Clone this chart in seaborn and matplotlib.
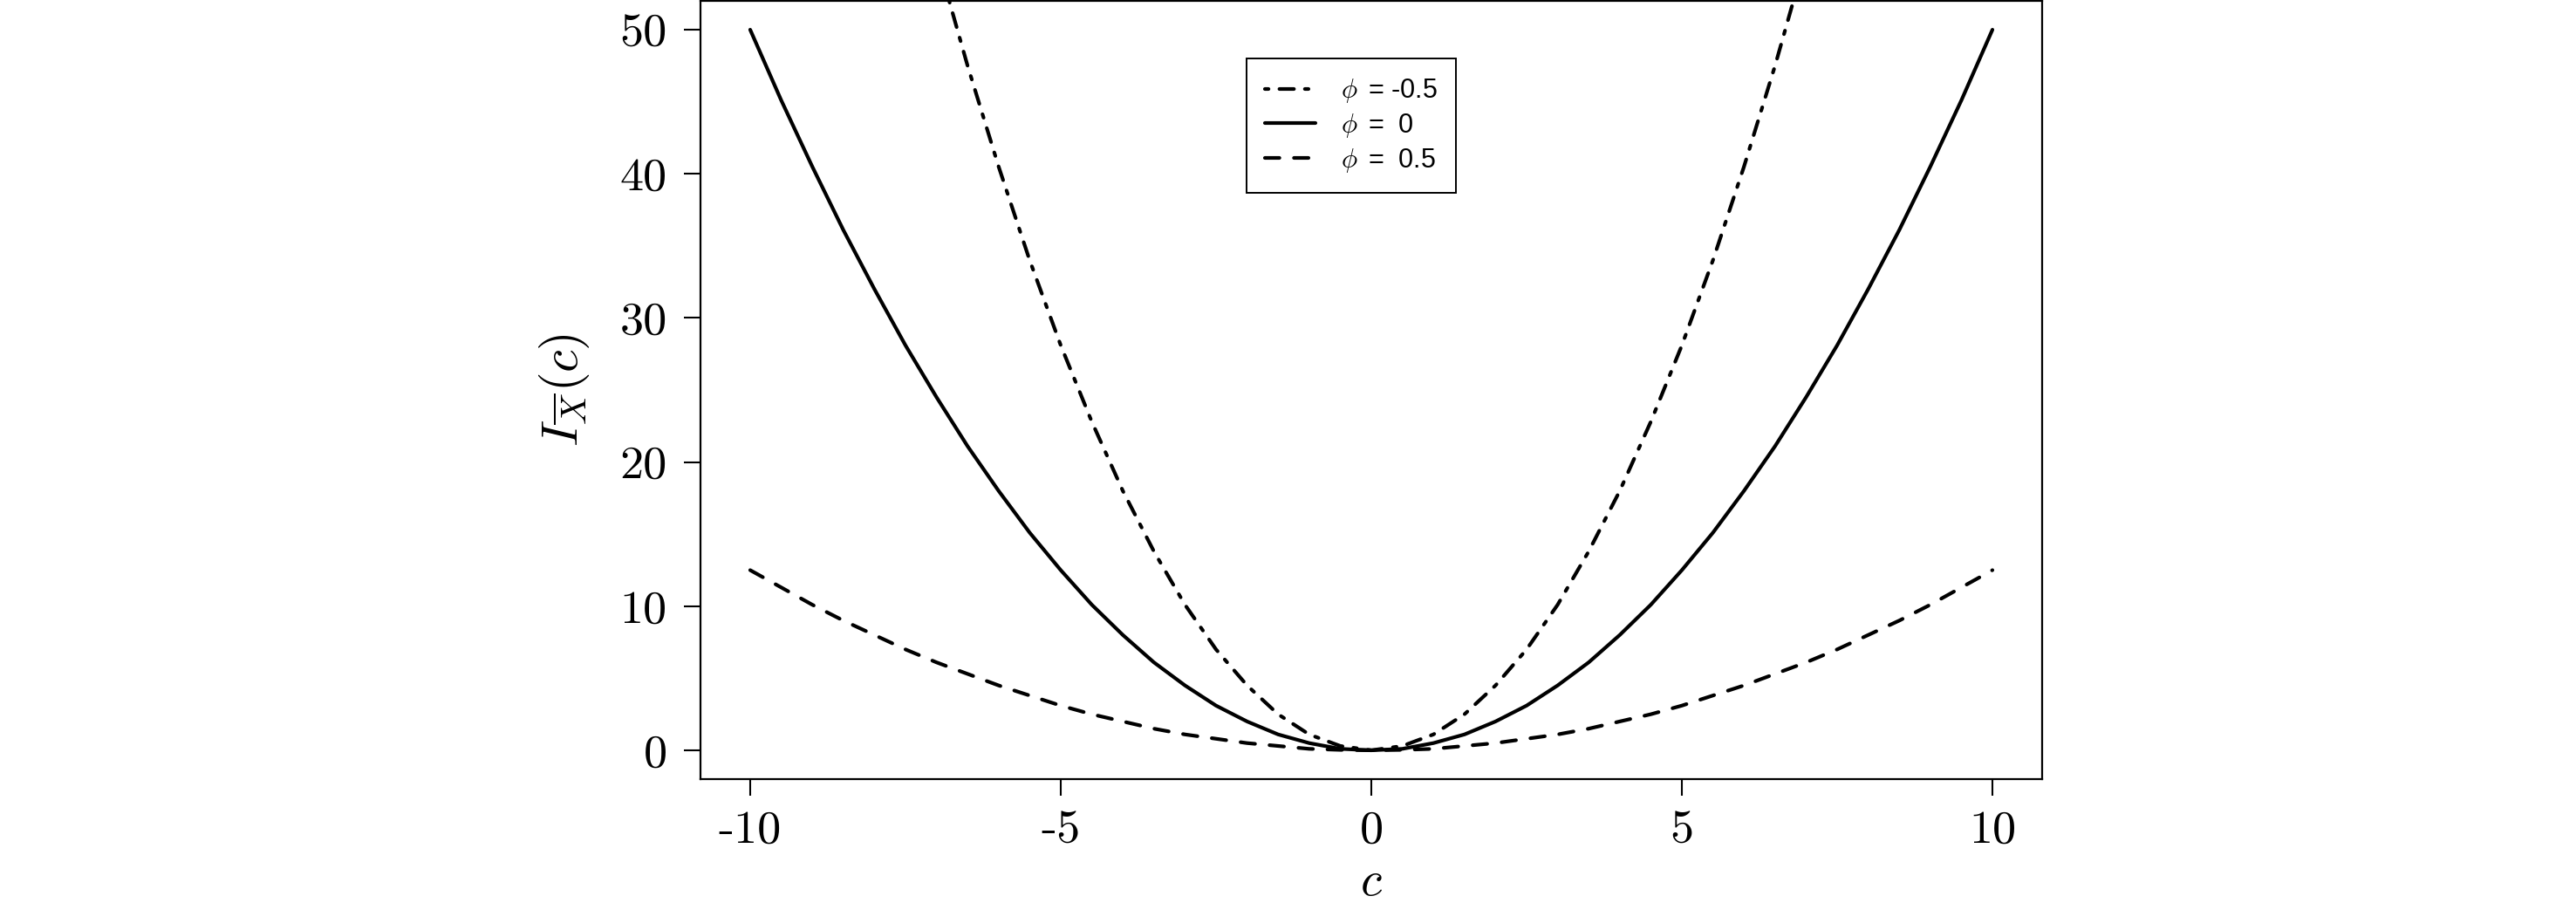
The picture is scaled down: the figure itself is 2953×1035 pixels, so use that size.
import numpy as np
import pandas as pd
import matplotlib
matplotlib.use("Agg")
import matplotlib.pyplot as plt
import seaborn as sns

# valori
c_full = [-10, -9.5, -9, -8.5, -8, -7.5, -7, -6.5, -6, -5.5, -5, -4.5, -4, -3.5, -3,
          -2.5, -2, -1.5, -1, -0.5, 0, 0.5, 1, 1.5, 2, 2.5, 3, 3.5, 4, 4.5, 5,
          5.5, 6, 6.5, 7, 7.5, 8, 8.5, 9, 9.5, 10]
i_phi_zero = [50, 45.1, 40.5, 36.1, 32, 28.1, 24.5, 21.1, 18, 15.1, 12.5, 10.1, 8, 6.1, 4.5,
              3.1, 2, 1.1, 0.5, 0.1, 0, 0.1, 0.5, 1.1, 2, 3.1, 4.5, 6.1, 8, 10.1, 12.5,
              15.1, 18, 21.1, 24.5, 28.1, 32, 36.1, 40.5, 45.1, 50]
i_phi_pos = [12.5, 11.3, 10.1, 9.0, 8.0, 7.0, 6.1, 5.3, 4.5, 3.8, 3.1, 2.5, 2.0, 1.5, 1.1,
             0.8, 0.5, 0.3, 0.1, 0.03, 0, 0.03, 0.1, 0.3, 0.5, 0.8, 1.1, 1.5, 2.0, 2.5, 3.1,
             3.8, 4.5, 5.3, 6.1, 7.0, 8.0, 9.0, 10.1, 11.3, 12.5]
c_inner = [-7, -6.5, -6, -5.5, -5, -4.5, -4, -3.5, -3, -2.5, -2, -1.5, -1, -0.5, 0,
           0.5, 1, 1.5, 2, 2.5, 3, 3.5, 4, 4.5, 5, 5.5, 6, 6.5, 7]
i_phi_neg = [55.1, 47.5, 40.5, 34.0, 28.1, 22.8, 18, 13.8, 10.1, 7.0, 4.5, 2.5, 1.1, 0.3, 0,
             0.3, 1.1, 2.5, 4.5, 7.0, 10.1, 13.8, 18, 22.8, 28.1, 34.0, 40.5, 47.5, 55.1]

x_ticks = [-10, -5, 0, 5, 10]
x_tick_labels = ["-10", "-5", "0", "5", "10"]
y_ticks = [0, 10, 20, 30, 40, 50]
legend_labels = [r"$\phi\,$ = -0.5", r"$\phi\,$ =  0", r"$\phi\,$ =  0.5"]

sns.set_theme(style="white", rc={
    "axes.edgecolor": "black", "text.color": "black",
    "xtick.color": "black", "ytick.color": "black", "axes.labelcolor": "black",
})
plt.rcParams["mathtext.fontset"] = "cm"
plt.rcParams["font.family"] = ["Liberation Sans", "DejaVu Sans"]

fig = plt.figure(figsize=(29.53, 10.35), dpi=100)
ax = fig.add_axes([803 / 2953, 1 - 893 / 1035, (2341 - 803) / 2953, 892 / 1035])

lw = 3.0
common = dict(color="black", linewidth=lw, ax=ax, sort=False, estimator=None,
              dash_capstyle="round", solid_capstyle="round")
sns.lineplot(x=c_inner, y=i_phi_neg, linestyle=(0, (1, 3, 4, 3)), **common)
sns.lineplot(x=c_full, y=i_phi_zero, linestyle="-", **common)
sns.lineplot(x=c_full, y=i_phi_pos, linestyle=(0, (4, 4)), **common)

ax.set_xlim(-10.8, 10.8)
ax.set_ylim(-2, 52)

for s in ax.spines.values():
    s.set_linewidth(1.6)
    s.set_color("black")

ax.set_xticks(x_ticks)
ax.set_xticklabels(x_tick_labels, family="cmr10", fontsize=39)
ax.set_yticks(y_ticks)
ax.set_yticklabels([str(v) for v in y_ticks], family="cmr10", fontsize=39)
ax.tick_params(axis="both", direction="out", length=13.5, width=1.5, bottom=True, left=True)
ax.tick_params(axis="x", pad=12)
ax.tick_params(axis="y", pad=14)

ax.set_xlabel(r"$c$", fontsize=40)
ax.set_ylabel(r"$I_{\overline{X}}(c)$", fontsize=42)
ax.xaxis.set_label_coords(0.5, -0.104)
ax.yaxis.set_label_coords(-0.081, 0.5)

leg = ax.legend(ax.lines, legend_labels, loc="upper left",
                bbox_to_anchor=(1429 / 2953, 1 - 67 / 1035), bbox_transform=fig.transFigure,
                prop={"family": "Liberation Sans", "size": 22},
                frameon=True, fancybox=False, shadow=False, framealpha=1,
                handlelength=1.9, handletextpad=0.95, labelspacing=0.25,
                borderpad=0.7, borderaxespad=0)
leg.get_frame().set_edgecolor("black")
leg.get_frame().set_linewidth(1.4)

fig.savefig("out.png", dpi=100)
